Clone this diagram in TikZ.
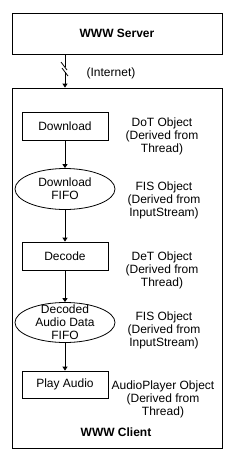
\documentclass[tikz,border=0pt]{standalone}
\usepackage{fontspec}
\setmainfont{Liberation Sans}
\usetikzlibrary{arrows.meta,shapes.geometric}

\begin{document}
\begin{tikzpicture}[x=1pt, y=-1pt, font=\fontsize{12}{13}\selectfont, line width=0.8pt]
\tikzset{
  frame/.style={draw, rectangle, minimum width=210pt, inner sep=0pt},
  blk/.style={draw, rectangle, minimum width=86pt, minimum height=28pt, inner sep=0pt},
  fifo/.style={draw, ellipse, minimum width=100pt, minimum height=41pt, inner sep=0pt},
  lab/.style={align=center, inner sep=0pt},
  bold/.style={font=\fontsize{12}{13}\selectfont\bfseries},
  arr/.style={-{Triangle[width=5pt,length=4pt]}}}
\useasboundingbox (0,0) rectangle (235,459);

% ---------------- server and client frames ----------------
\node[frame, bold, minimum height=41pt] (server) at (117,33.5) {WWW Server};
\node[frame, minimum height=360pt] (client) at (117,268) {};
\node[lab, bold] (clientlab) at (116,432) {WWW Client};

% ---------------- client pipeline ----------------
\node[blk] (download) at (65,126.5) {Download};
\node[fifo, label={[lab]center:Download\\FIFO}] (dlfifo) at (65,189) {};
\node[blk] (decode) at (65,256) {Decode};
\node[fifo, minimum height=40pt, label={[lab]center:Decoded\\Audio Data\\FIFO}] (adfifo) at (65,322.5) {};
\node[blk, minimum height=27pt] (play) at (65,384.5) {Play Audio};

\draw[arr] (download) -- (dlfifo);
\draw[arr] (dlfifo) -- (decode);
\draw[arr] (decode) -- (adfifo);
\draw[arr] (adfifo) -- (play);

% ---------------- object notes ----------------
\node[lab] (dotnote) at (162,136) {DoT Object\\(Derived from\\Thread)};
\node[lab] (fisnote) at (164,200) {FIS Object\\(Derived from\\InputStream)};
\node[lab] (detnote) at (162,270) {DeT Object\\(Derived from\\Thread)};
\node[lab] (fisnoteb) at (164,330) {FIS Object\\(Derived from\\InputStream)};
\node[lab] (playnote) at (163,399) {AudioPlayer Object\\(Derived from\\Thread)};

% ---------------- internet link ----------------
\coordinate (cut1) at (65,67);
\coordinate (cut2) at (65,72);
\draw (server.south -| download) -- (cut1);
\draw[arr] (cut2) -- (client.north -| download);
\draw ([xshift=-4pt, yshift=5pt]cut1) -- ([xshift=2pt, yshift=-3pt]cut1);
\draw ([xshift=-3pt, yshift=4pt]cut2) -- ([xshift=3pt, yshift=-4pt]cut2);
\node[lab] (net) at (111,73) {(Internet)};
\end{tikzpicture}
\end{document}
